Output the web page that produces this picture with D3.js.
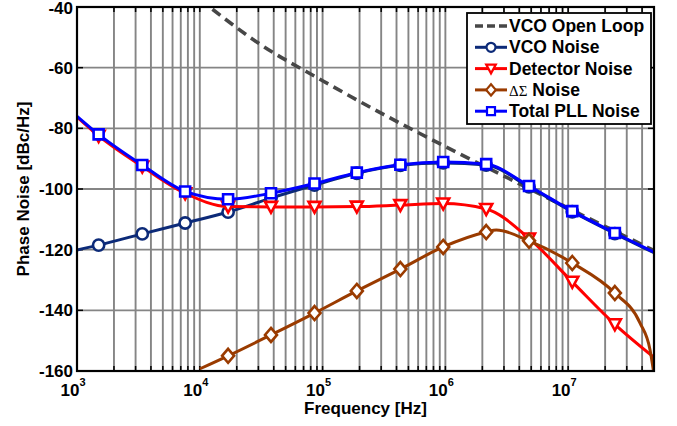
<!DOCTYPE html>
<html>
<head>
<meta charset="utf-8">
<script src="https://cdn.jsdelivr.net/npm/d3@7"></script>
<style>
  body { margin: 0; background: #fff; }
  text { font-family: "Liberation Sans", Arial, sans-serif; font-weight: bold; fill: #000; }
</style>
</head>
<body>
<div id="chart"></div>
<script>
// frequencies where markers sit (every series shares them)
const markerFreqs = [1.5e3, 3.4e3, 7.6e3, 1.7e4, 3.8e4, 8.6e4, 1.9e5, 4.3e5, 9.6e5, 2.15e6, 4.8e6, 1.08e7, 2.4e7];

const openLoopFreq = [1e4, 3.16e4, 1e5, 3.16e5, 1e6, 3.16e6, 1e7, 5e7];
const openLoopVal  = [-37.5, -52.5, -64.3, -75.5, -86, -96.2, -106.3, -120.3];

const noiseFreq = [1e3, 1.5e3, 3.4e3, 7.6e3, 1.7e4, 3.8e4, 8.6e4, 1.9e5, 4.3e5, 9.6e5, 2.15e6, 4.8e6, 1.08e7, 2.4e7, 5e7];
const vcoVal    = [-120.1, -118.5, -114.8, -111.2, -107.6, -103, -98.7, -94.8, -92.2, -91.4, -92.1, -99.3, -107.5, -114.7, -121];
const detVal    = [-76.3, -82.5, -92.6, -101.4, -105.8, -105.9, -105.9, -105.8, -105.3, -104.8, -106.6, -116.3, -130.6, -144.6, -155.5];
const totalVal  = [-76, -82, -92.1, -100.8, -103.4, -101.4, -98.2, -94.6, -92, -91.1, -91.8, -99, -107.3, -114.5, -120.8];

const dsFreq = [1e4, 1.7e4, 3.8e4, 8.6e4, 1.9e5, 4.3e5, 9.6e5, 2.15e6, 2.6e6, 4.8e6, 1.08e7, 2.4e7, 3.85e7, 4.64e7, 4.95e7];
const dsVal  = [-159.3, -155, -148.1, -140.9, -133.6, -126.4, -119.1, -114.2, -113.5, -117.1, -124.4, -134.3, -144.2, -153, -160];

const yTicks = [-40, -60, -80, -100, -120, -140, -160];
const xDecades = [3, 4, 5, 6, 7];

const series = [
  { name: 'VCO Open Loop', freq: openLoopFreq, val: openLoopVal, color: '#474747', dash: '10,6', marker: null },
  { name: 'VCO Noise', freq: noiseFreq, val: vcoVal, color: '#0c2a78', dash: null, marker: 'circle' },
  { name: 'Detector Noise', freq: noiseFreq, val: detVal, color: '#ff0000', dash: null, marker: 'tri' },
  { name: 'DS Noise', freq: dsFreq, val: dsVal, color: '#9a3b00', dash: null, marker: 'diamond' },
  { name: 'Total PLL Noise', freq: noiseFreq, val: totalVal, color: '#0000ff', dash: null, marker: 'square' }
];

const W = 677, H = 426;
const margin = { top: 7, right: 23, bottom: 55, left: 77 };
const width = W - margin.left - margin.right;
const height = H - margin.top - margin.bottom;

const x = d3.scaleLog().domain([1e3, 5e7]).range([0, width]);
const y = d3.scaleLinear().domain([-160, -40]).range([height, 0]);

const svg = d3.select('#chart').append('svg').attr('width', W).attr('height', H);
const g = svg.append('g').attr('transform', 'translate(' + margin.left + ',' + margin.top + ')');

g.append('defs').append('clipPath').attr('id', 'clip')
  .append('rect').attr('width', width).attr('height', height);

// grid
const gridX = [];
xDecades.forEach(d => {
  for (let k = 1; k <= 9; k++) {
    const f = k * Math.pow(10, d);
    if (f > 1e3 && f < 5e7) gridX.push(f);
  }
});
g.selectAll('.gx').data(gridX).enter().append('line')
  .attr('x1', d => x(d)).attr('x2', d => x(d))
  .attr('y1', 0).attr('y2', height)
  .attr('stroke', '#858585').attr('stroke-width', 1.9);
g.selectAll('.gy').data(yTicks.slice(1, -1)).enter().append('line')
  .attr('x1', 0).attr('x2', width)
  .attr('y1', d => y(d)).attr('y2', d => y(d))
  .attr('stroke', '#858585').attr('stroke-width', 1.9);

// tick marks (inside)
g.selectAll('.tb').data(gridX).enter().append('line')
  .attr('x1', d => x(d)).attr('x2', d => x(d)).attr('y1', height).attr('y2', height - 5)
  .attr('stroke', '#000').attr('stroke-width', 1.5);
g.selectAll('.tt').data(gridX).enter().append('line')
  .attr('x1', d => x(d)).attr('x2', d => x(d)).attr('y1', 0).attr('y2', 5)
  .attr('stroke', '#000').attr('stroke-width', 1.5);
g.selectAll('.tl').data(yTicks).enter().append('line')
  .attr('x1', 0).attr('x2', 6).attr('y1', d => y(d)).attr('y2', d => y(d))
  .attr('stroke', '#000').attr('stroke-width', 1.5);
g.selectAll('.tr').data(yTicks).enter().append('line')
  .attr('x1', width).attr('x2', width - 6).attr('y1', d => y(d)).attr('y2', d => y(d))
  .attr('stroke', '#000').attr('stroke-width', 1.5);

// tick labels
g.selectAll('.yl').data(yTicks).enter().append('text')
  .attr('x', -4).attr('y', d => y(d) + (d === -40 ? 6.5 : 6))
  .attr('text-anchor', 'end').style('font-size', '17px')
  .text(d => d);
xDecades.forEach(d => {
  const t = g.append('text').attr('x', x(Math.pow(10, d)) - 4).attr('y', height + 25)
    .attr('text-anchor', 'middle').style('font-size', '17px');
  t.append('tspan').text('10');
  t.append('tspan').attr('dy', -10).style('font-size', '11px').text(d);
});

// axis titles
svg.append('text').attr('x', margin.left + width / 2).attr('y', 414)
  .attr('text-anchor', 'middle').style('font-size', '17px').text('Frequency [Hz]');
svg.append('text').attr('transform', 'translate(29,' + (margin.top + height / 2) + ') rotate(-90)')
  .attr('text-anchor', 'middle').style('font-size', '17px').text('Phase Noise [dBc/Hz]');

// markers
function markerPath(type, s) {
  if (type === 'circle') return d3.symbol().type(d3.symbolCircle).size(100 * s * s)();
  if (type === 'square') return 'M' + (-5 * s) + ',' + (-5 * s) + 'h' + (10 * s) + 'v' + (10 * s) + 'h' + (-10 * s) + 'Z';
  if (type === 'tri') return 'M' + (-6 * s) + ',' + (-5 * s) + 'L' + (6 * s) + ',' + (-5 * s) + 'L0,' + (6 * s) + 'Z';
  if (type === 'diamond') return 'M0,' + (-7 * s) + 'L' + (6 * s) + ',0L0,' + (7 * s) + 'L' + (-6 * s) + ',0Z';
  return null;
}

const line = d3.line().x(d => x(d[0])).y(d => y(d[1])).curve(d3.curveMonotoneX);
const plot = g.append('g').attr('clip-path', 'url(#clip)');

series.forEach(s => {
  const pts = s.freq.map((f, i) => [f, s.val[i]]);
  plot.append('path').attr('d', line(pts))
    .attr('fill', 'none').attr('stroke', s.color).attr('stroke-width', s.dash ? 3.6 : 3)
    .attr('stroke-dasharray', s.dash);
  if (s.marker) {
    const mpts = pts.filter(p => markerFreqs.indexOf(p[0]) >= 0);
    plot.selectAll(null).data(mpts).enter().append('path')
      .attr('d', markerPath(s.marker, 1))
      .attr('transform', p => 'translate(' + x(p[0]) + ',' + y(p[1]) + ')')
      .attr('fill', '#fff').attr('stroke', s.color).attr('stroke-width', 2.6);
  }
});

// frame
g.append('rect').attr('width', width).attr('height', height)
  .attr('fill', 'none').attr('stroke', '#000').attr('stroke-width', 2.2);

// legend
const lg = svg.append('g').attr('transform', 'translate(467,13)');
lg.append('rect').attr('width', 184).attr('height', 111)
  .attr('fill', '#fff').attr('stroke', '#000').attr('stroke-width', 1.8);
series.forEach((s, i) => {
  const cy = 13 + i * 21.3;
  lg.append('line').attr('x1', 8).attr('x2', 40).attr('y1', cy).attr('y2', cy)
    .attr('stroke', s.color).attr('stroke-width', s.dash ? 3.6 : 3).attr('stroke-dasharray', s.dash ? '8,4' : null);
  if (s.marker) {
    lg.append('path').attr('d', markerPath(s.marker, 0.8))
      .attr('transform', 'translate(24,' + cy + ')')
      .attr('fill', '#fff').attr('stroke', s.color).attr('stroke-width', 2.2);
  }
  const t = lg.append('text').attr('x', 42).attr('y', cy + 6).style('font-size', '17.5px');
  if (s.marker === 'diamond') {
    t.append('tspan').style('font-family', '"Liberation Serif", serif').style('font-weight', 'normal')
      .style('font-size', '15px').text('\u0394\u03A3');
    t.append('tspan').text(' Noise');
  } else {
    t.text(s.name);
  }
});
</script>
</body>
</html>
